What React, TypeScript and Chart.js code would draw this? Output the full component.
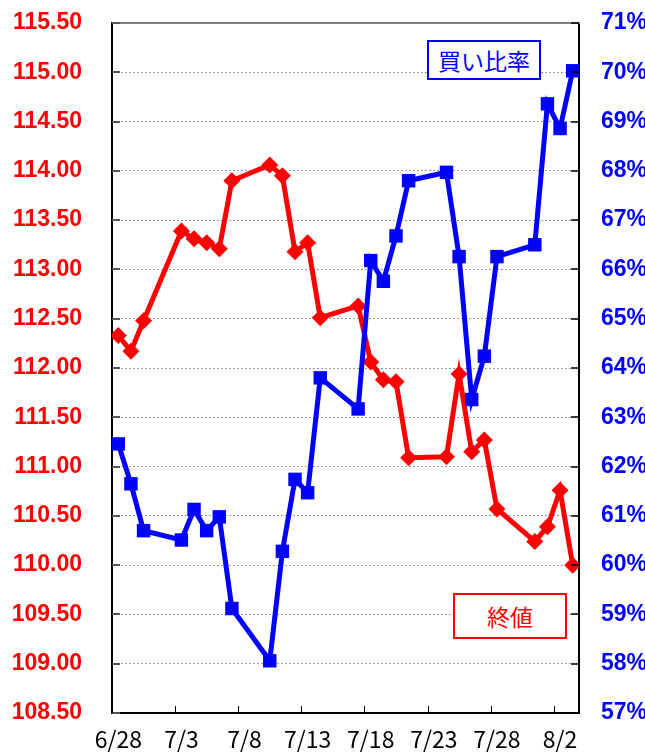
import React, { useEffect, useRef } from 'react';
import { Chart, registerables } from 'chart.js';
Chart.register(...registerables);

// Trading dates (2017)
const dates = ['6/28','6/29','6/30','7/3','7/4','7/5','7/6','7/7','7/10','7/11','7/12','7/13','7/14','7/17','7/18','7/19','7/20','7/21','7/24','7/25','7/26','7/27','7/28','7/31','8/1','8/2','8/3'];
// 終値 (USD/JPY close)
const closeValues = [112.33,112.17,112.48,113.39,113.31,113.27,113.21,113.90,114.06,113.95,113.18,113.27,112.51,112.63,112.06,111.88,111.86,111.09,111.10,111.94,111.15,111.27,110.57,110.24,110.39,110.76,110.00];
// 買い比率 (%)
const buyRatio = [62.46,61.65,60.70,60.51,61.13,60.70,60.98,59.12,58.06,60.28,61.74,61.47,63.80,63.17,66.18,65.76,66.68,67.80,67.97,66.26,63.36,64.24,66.26,66.50,69.36,68.86,70.03];
const xTickLabels = ['6/28','7/3','7/8','7/13','7/18','7/23','7/28','8/2'];
const leftMin = 108.5, leftMax = 115.5, leftStep = 0.5;
const rightMin = 57, rightMax = 71, rightStep = 1;

function dayIndex(label: string): number {
  const [m, d] = label.split('/').map(Number);
  const ord = m === 6 ? d : m === 7 ? 30 + d : 61 + d;
  return ord - 28;
}

const axisDays = dayIndex(dates[dates.length - 1]) + 1;

const framePlugin = {
  id: 'frameTicks',
  afterDraw(chart: any) {
    const { ctx, chartArea } = chart;
    const { left, right, top, bottom } = chartArea;
    const y = chart.scales.y, y1 = chart.scales.y1, x = chart.scales.x;
    ctx.save();
    ctx.strokeStyle = '#808080';
    ctx.lineWidth = 2;
    ctx.beginPath();
    ctx.moveTo(left, top);
    ctx.lineTo(right + 1, top);
    ctx.stroke();
    ctx.strokeStyle = '#555';
    ctx.lineWidth = 2;
    y.ticks.forEach((t: any) => {
      const py = Math.round(y.getPixelForValue(t.value));
      ctx.beginPath();
      ctx.moveTo(left, py);
      ctx.lineTo(left + 8, py);
      ctx.stroke();
    });
    ctx.strokeStyle = '#000';
    ctx.lineWidth = 1.5;
    y1.ticks.forEach((t: any) => {
      const py = Math.round(y1.getPixelForValue(t.value));
      ctx.beginPath();
      ctx.moveTo(right, py);
      ctx.lineTo(right - 8, py);
      ctx.stroke();
    });
    ctx.lineWidth = 1;
    xTickLabels.forEach((l) => {
      const px = Math.round(x.getPixelForValue(dayIndex(l))) + 0.5;
      ctx.beginPath();
      ctx.moveTo(px, bottom);
      ctx.lineTo(px, bottom - 7);
      ctx.stroke();
    });
    ctx.restore();
  },
};

export default function App() {
  const ref = useRef<HTMLCanvasElement>(null);
  useEffect(() => {
    if (!ref.current) return;
    const tickFont = { family: '"Liberation Sans", Arial', size: 23, weight: 'bold' as const };
    const chart = new Chart(ref.current, {
      type: 'line',
      data: {
        datasets: [
          {
            label: '買い比率',
            data: dates.map((d, i) => ({ x: dayIndex(d) + 0.5, y: buyRatio[i] })),
            yAxisID: 'y1',
            borderColor: '#0000ff',
            backgroundColor: '#0000ff',
            borderWidth: 5,
            pointStyle: 'rect',
            pointRadius: 9.5,
            pointBorderWidth: 0,
            pointBackgroundColor: '#0000ff',
            tension: 0,
          },
          {
            label: '終値',
            data: dates.map((d, i) => ({ x: dayIndex(d) + 0.5, y: closeValues[i] })),
            yAxisID: 'y',
            borderColor: '#ff0000',
            backgroundColor: '#ff0000',
            borderWidth: 5,
            pointStyle: 'rectRot',
            pointRadius: 8.5,
            pointBorderWidth: 0,
            pointBackgroundColor: '#ff0000',
            tension: 0,
          },
        ],
      },
      options: {
        responsive: false,
        animation: false,
        layout: { padding: { top: 23, left: 0, right: 0, bottom: 0 } },
        plugins: { legend: { display: false }, tooltip: { enabled: false } },
        scales: {
          x: {
            type: 'linear',
            min: 0,
            max: axisDays,
            afterFit: (s: any) => { s.height = 41; s.paddingLeft = 0; s.paddingRight = 0; },
            afterBuildTicks: (s: any) => {
              s.ticks = xTickLabels.map((l) => ({ value: dayIndex(l) + 0.5 }));
            },
            ticks: {
              autoSkip: false,
              maxRotation: 0,
              color: '#000',
              padding: 12,
              font: { family: '"Noto Sans CJK JP", "Noto Sans"', size: 23 },
              callback: (v: any) => {
                const l = xTickLabels.find((t) => dayIndex(t) + 0.5 === Number(v));
                return l ?? '';
              },
            },
            grid: { display: true, drawOnChartArea: false, drawTicks: false },
            border: { display: true, color: '#000', width: 2 },
          },
          y: {
            position: 'left',
            min: leftMin,
            max: leftMax,
            afterFit: (s: any) => { s.width = 112; s.paddingTop = 0; s.paddingBottom = 0; },
            ticks: {
              stepSize: leftStep,
              color: '#ff0000',
              padding: 30,
              font: tickFont,
              callback: (v: any) => Number(v).toFixed(2),
            },
            grid: { color: '#9a9a9a', lineWidth: 1, drawTicks: false },
            border: { display: true, color: '#000', width: 2, dash: [2, 2] },
          },
          y1: {
            position: 'right',
            min: rightMin,
            max: rightMax,
            afterFit: (s: any) => { s.width = 66; s.paddingTop = 0; s.paddingBottom = 0; },
            ticks: {
              stepSize: rightStep,
              color: '#0000ff',
              padding: 22,
              font: tickFont,
              callback: (v: any) => `${v}%`,
            },
            grid: { drawOnChartArea: false, drawTicks: false },
            border: { display: true, color: '#000', width: 2 },
          },
        },
      },
      plugins: [framePlugin],
    });
    return () => chart.destroy();
  }, []);

  const boxBase: React.CSSProperties = {
    position: 'absolute',
    boxSizing: 'border-box',
    background: '#fff',
    display: 'flex',
    alignItems: 'center',
    justifyContent: 'center',
    fontFamily: '"Noto Sans CJK JP", sans-serif',
    fontSize: 23,
    lineHeight: 1,
  };

  return (
    <div style={{ position: 'absolute', left: 0, top: 0, width: 645, height: 754, background: '#fff' }}>
      <canvas ref={ref} width={645} height={754} style={{ display: 'block' }} />
      <div style={{ ...boxBase, left: 427, top: 40, width: 114, height: 40, border: '2px solid #0000ff', color: '#0000ff' }}>買い比率</div>
      <div style={{ ...boxBase, left: 453, top: 593, width: 114, height: 46, border: '2px solid #ff0000', color: '#ff0000' }}>終値</div>
    </div>
  );
}
